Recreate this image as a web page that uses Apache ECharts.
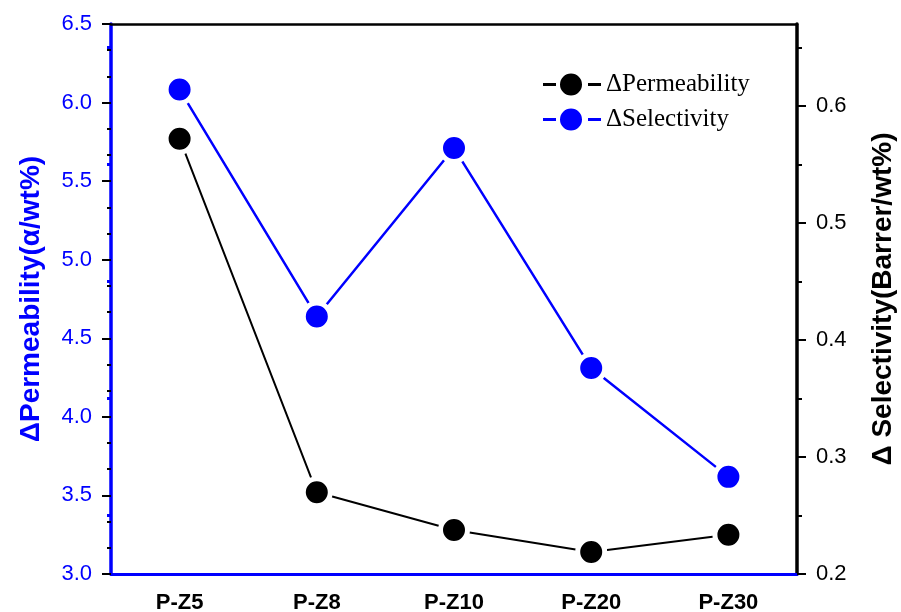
<!DOCTYPE html>
<html>
<head>
<meta charset="utf-8">
<script src="https://cdn.jsdelivr.net/npm/echarts@6/dist/echarts.min.js"></script>
<style>
  html, body { margin: 0; padding: 0; background: #fff; }
  #chart { width: 901px; height: 612px; }
</style>
</head>
<body>
<div id="chart"></div>
<script>
// data
var categories = ['P-Z5', 'P-Z8', 'P-Z10', 'P-Z20', 'P-Z30'];
var permeability = [5.77, 3.52, 3.28, 3.14, 3.25];     // black, left axis
var selectivity = [0.614, 0.420, 0.564, 0.376, 0.283]; // blue, right axis

// axis ranges / ticks
var leftRange = [3.0, 6.5];
var leftStep = 0.5;
var rightRange = [0.2, 0.67];
var rightStep = 0.1;
var rightLastLabel = 0.6;
var rightMinorStep = 0.05;
var rightMinorLast = 0.65;
var mirrorTicks = [0.25, 0.65]; // blue ticks of the right scale shown on the left side

var W = 901, H = 612;
var gLeft = 111, gRight = 104, gTop = 24, gBottom = 38;
var plotH = H - gTop - gBottom;
// pixel y of a right-scale value, used only to line up the extra tick grids
function yOf(v) {
  return gTop + (rightRange[1] - v) / (rightRange[1] - rightRange[0]) * plotH;
}
function makeGrid(top, bottom) {
  return { left: gLeft, right: gRight, top: top, bottom: bottom, outerBoundsMode: 'none', containLabel: false };
}

var sans = '"Liberation Sans", Arial, sans-serif';
var blue = '#0000ff';
// legend icon: dash - dot - dash, like the Origin legend
var legendIcon = 'path://M0 9.5h13v3H0z M17 11a11 11 0 1 0 22 0a11 11 0 1 0 -22 0z M45 9.5h13v3h-13z';

var myChart = echarts.init(document.getElementById('chart'));
myChart.setOption({
  animation: false,
  backgroundColor: '#fff',
  grid: [
    makeGrid(gTop, gBottom),
    makeGrid(yOf(rightLastLabel), gBottom),
    makeGrid(yOf(rightMinorLast), gBottom),
    makeGrid(yOf(mirrorTicks[1]), H - yOf(mirrorTicks[0]))
  ],
  legend: {
    orient: 'vertical',
    left: 543,
    top: 72,
    padding: 0,
    itemWidth: 58,
    itemHeight: 22,
    itemGap: 10,
    itemStyle: { borderWidth: 0 },
    textStyle: { fontFamily: '"Liberation Serif", "Times New Roman", serif', fontSize: 25, color: '#000' },
    data: [
      { name: 'ΔPermeability', icon: legendIcon },
      { name: 'ΔSelectivity', icon: legendIcon }
    ]
  },
  xAxis: [
    {
      type: 'category', gridIndex: 0, position: 'bottom', data: categories,
      boundaryGap: true,
      axisLine: { lineStyle: { color: blue, width: 3 } },
      axisTick: { alignWithLabel: true, length: 8, lineStyle: { color: blue, width: 3 } },
      axisLabel: { color: '#000', fontFamily: sans, fontWeight: 'bold', fontSize: 22, margin: 18 },
      splitLine: { show: false }
    },
    {
      type: 'category', gridIndex: 0, position: 'top', data: categories,
      axisLine: { lineStyle: { color: '#000', width: 2.5 } },
      axisTick: { show: false }, axisLabel: { show: false }, splitLine: { show: false }
    },
    { type: 'category', gridIndex: 1, data: categories, show: false },
    { type: 'category', gridIndex: 2, data: categories, show: false },
    { type: 'category', gridIndex: 3, data: categories, show: false }
  ],
  yAxis: [
    {
      type: 'value', gridIndex: 0, position: 'left',
      min: leftRange[0], max: leftRange[1], interval: leftStep,
      name: 'ΔPermeability(α/wt%)',
      nameLocation: 'middle', nameRotate: 90, nameGap: 66,
      nameTextStyle: { color: blue, fontFamily: sans, fontWeight: 'bold', fontSize: 28 },
      axisLine: { show: true, lineStyle: { color: blue, width: 3.5 } },
      axisTick: { show: true, length: 9, lineStyle: { color: '#000', width: 2 } },
      minorTick: { show: true, splitNumber: 3, length: 4, lineStyle: { color: '#000', width: 2 } },
      axisLabel: { color: blue, fontFamily: sans, fontSize: 22, margin: 19,
        formatter: function (v) { return v.toFixed(1); } },
      splitLine: { show: false }
    },
    {
      type: 'value', gridIndex: 0, position: 'right',
      min: rightRange[0], max: rightRange[1],
      name: 'Δ Selectivity(Barrer/wt%)',
      nameLocation: 'middle', nameRotate: 90, nameGap: 72,
      nameTextStyle: { color: '#000', fontFamily: sans, fontWeight: 'bold', fontSize: 28 },
      axisLine: { show: true, lineStyle: { color: '#000', width: 3.5 } },
      axisTick: { show: false }, axisLabel: { show: false }, splitLine: { show: false }
    },
    {
      type: 'value', gridIndex: 1, position: 'right',
      min: rightRange[0], max: rightLastLabel, interval: rightStep,
      axisLine: { show: false },
      axisTick: { show: true, length: 9, lineStyle: { color: '#000', width: 2 } },
      axisLabel: { color: '#000', fontFamily: sans, fontSize: 22, margin: 19,
        formatter: function (v) { return v.toFixed(1); } },
      splitLine: { show: false }
    },
    {
      type: 'value', gridIndex: 2, position: 'right',
      min: rightRange[0], max: rightMinorLast, interval: rightMinorStep,
      axisLine: { show: false },
      axisTick: { show: true, length: 5, lineStyle: { color: '#000', width: 2 } },
      axisLabel: { show: false }, splitLine: { show: false }
    },
    {
      type: 'value', gridIndex: 3, position: 'left',
      min: mirrorTicks[0], max: mirrorTicks[1], interval: rightStep,
      axisLine: { show: false },
      axisTick: { show: true, length: 4, lineStyle: { color: blue, width: 3 } },
      axisLabel: { show: false }, splitLine: { show: false }
    }
  ],
  series: [
    {
      name: 'ΔPermeability', type: 'line', xAxisIndex: 0, yAxisIndex: 0,
      data: permeability,
      symbol: 'circle', symbolSize: 27,
      itemStyle: { color: '#000', borderColor: '#fff', borderWidth: 5 },
      lineStyle: { color: '#000', width: 2 },
      z: 3
    },
    {
      name: 'ΔSelectivity', type: 'line', xAxisIndex: 0, yAxisIndex: 1,
      data: selectivity,
      symbol: 'circle', symbolSize: 27,
      itemStyle: { color: blue, borderColor: '#fff', borderWidth: 5 },
      lineStyle: { color: blue, width: 2.5 },
      z: 3
    }
  ]
});
</script>
</body>
</html>
